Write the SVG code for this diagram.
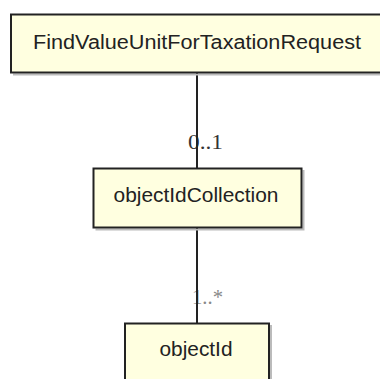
<svg xmlns="http://www.w3.org/2000/svg" width="380" height="379" viewBox="0 0 380 379">
<defs>
<style>
.box{fill:#ffffe0;stroke:#222;stroke-width:2}
.shadow{fill:none;stroke:#bbb;stroke-width:2}
.lbl{font-family:"Liberation Sans",Arial,sans-serif;font-size:20px;fill:#222;text-anchor:middle}
.mult{font-family:"Liberation Serif","Times New Roman",serif;font-size:21px;fill:#333}
.mult2{font-family:"Liberation Serif","Times New Roman",serif;font-size:21px;fill:#888}
.edge{stroke:#222;stroke-width:2;fill:none}
</style>
</defs>
<rect width="380" height="379" fill="#fff"/>
<g id="connectors">
<text class="mult" x="188" y="149" textLength="35" lengthAdjust="spacingAndGlyphs">0..1</text>
<text class="mult2" x="192" y="304" textLength="31" lengthAdjust="spacingAndGlyphs">1..*</text>
<line class="edge" x1="197" y1="72" x2="197" y2="168"/>
<line class="edge" x1="197" y1="227" x2="197" y2="323"/>
</g>
<g id="FindValueUnitForTaxationRequest">
<path class="shadow" d="M13 74.5 H385"/>
<rect class="box" x="11" y="14.5" width="372" height="58"/>
<text class="lbl" x="197" y="48.5" textLength="328" lengthAdjust="spacingAndGlyphs">FindValueUnitForTaxationRequest</text>
</g>
<g id="objectIdCollection">
<path class="shadow" d="M95.5 229.5 H303.5 V170"/>
<rect class="box" x="93.5" y="168.5" width="208" height="59"/>
<text class="lbl" x="196" y="202" textLength="165" lengthAdjust="spacingAndGlyphs">objectIdCollection</text>
</g>
<g id="objectId">
<path class="shadow" d="M271 325 V380"/>
<rect class="box" x="125" y="323.5" width="144" height="70"/>
<text class="lbl" x="196" y="355.5" textLength="73" lengthAdjust="spacingAndGlyphs">objectId</text>
</g>
</svg>
